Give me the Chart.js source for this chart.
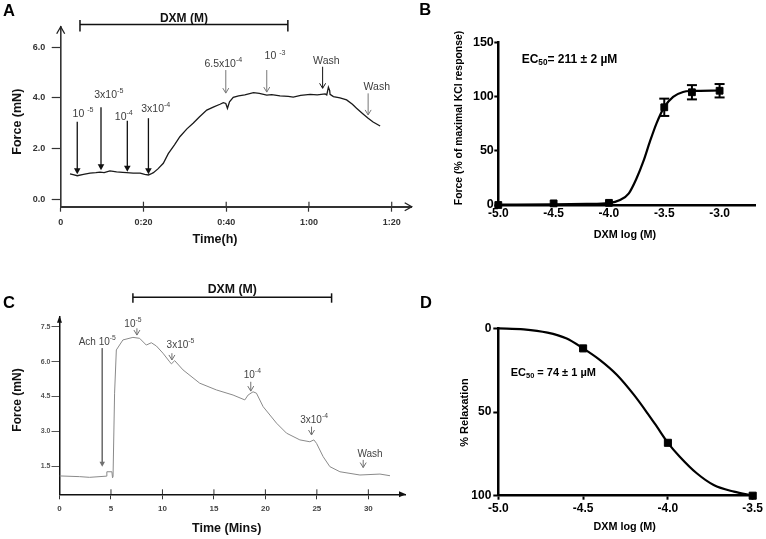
<!DOCTYPE html>
<html><head><meta charset="utf-8"><title>DXM contraction / relaxation</title>
<script src="https://cdn.jsdelivr.net/npm/chart.js@4.4.1/dist/chart.umd.min.js"></script>
<style>
html,body{margin:0;padding:0;background:#fff;}
#fig{position:relative;width:766px;height:539px;background:#fff;overflow:hidden;}
#fig canvas{position:absolute;}
</style></head><body>
<div id="fig">
<canvas id="cA" width="420" height="260" style="left:0;top:0"></canvas>
<canvas id="cB" width="386" height="260" style="left:380px;top:0"></canvas>
<canvas id="cC" width="420" height="279" style="left:0;top:260px"></canvas>
<canvas id="cD" width="386" height="279" style="left:380px;top:260px"></canvas>
</div>
<script>
// ================= Panel A : force trace (time in min, force in mN) =================
const timeA  = [2.25,3,4,5.5,7.1, 8.5,9.5,10.5,11.9,13.5, 15,15.95,17.5,19.2,20.3, 21.2,21.8,22.4,23.5,24.8, 26,27.5,28.8,30.5,32, 33.5,35.3,37,38.5,39.3, 39.9,40.3,40.8,41.7,43, 44.5,46.6,48,49.8,51, 53,55,56.2,58,60.3, 62,63.9,64.3,64.7,65, 65.1,65.9,67.5,69.1,70.5, 71.5,73,74.3,75.5,77.2];
const forceA = [1.0,0.97,0.93,0.98,1.03, 1.05,1.07,1.05,1.12,1.08, 1.06,1.05,1.03,1.03,0.98, 0.96,1.0,1.05,1.2,1.42, 1.8,2.15,2.47,2.78,3.0, 3.25,3.52,3.65,3.75,3.81, 3.78,3.59,3.85,4.02,4.08, 4.12,4.21,4.18,4.11,4.13, 4.08,4.06,4.03,4.1,4.14, 4.12,4.16,4.12,4.42,4.3, 4.14,4.05,4.0,3.92,3.75, 3.59,3.38,3.2,3.05,2.89];
const tickTimeA = [0,20,40,60,80];
const tickTimeLabelsA = ['0','0:20','0:40','1:00','1:20'];
const tickForceA = [0,2,4,6];
const doseTimesA  = [4.0, 9.74, 16.1, 21.2, 39.9, 49.8, 63.3, 74.3];
const doseLabelsA = ['10 ^-5','3x10^-5','10^-4','3x10^-4','6.5x10^-4','10 ^-3','Wash','Wash'];
const dxmPeriodA = [4.66, 54.9];

// ================= Panel B : contraction concentration-response =================
const logDoseB = [-5.0,-4.5,-4.0,-3.5,-3.25,-3.0];
const forceB   = [0,1.5,2,90.3,104.2,105.6];
const semB     = [0,0,0,8,6.6,6.2];
const fitLogB  = [-5,-4.5,-4.2,-4.0,-3.9,-3.82,-3.75,-3.69,-3.63,-3.57,-3.5,-3.42,-3.33,-3.25,-3.0];
const fitB     = [0.3,0.6,1.0,1.8,4.6,10.8,24.7,40,58.5,75.5,90.5,100,104.5,105.4,105.8];
const tickLogB = [-5,-4.5,-4,-3.5,-3];
const tickForceB = [0,50,100,150];

// ================= Panel C : ACh pre-contracted trace =================
const timeC  = [0,1.95,2.92,4.54,4.6, 5.09,5.15,5.2,5.35,5.52, 6.16,7.13,7.78,8.43,8.92, 9.41,10.05,10.7,10.87,11.19, 12.0,13.62,15.24,16.86,18.0, 18.32,18.8,19.13,19.78,21.08, 22.05,23.35,24.32,24.71,24.97, 25.61,26.26,27.24,29.18,31.13, 32.1];
const forceC = [1.08,1.05,1.02,1.07,1.26, 1.26,1.0,1.05,4.64,6.5, 6.93,7.04,7.0,6.71,6.81, 6.67,6.36,5.99,5.9,6.04, 5.64,5.07,4.78,4.56,4.35, 4.56,4.7,4.64,4.06,3.35, 2.92,2.63,2.55,2.63,2.48, 1.91,1.48,1.26,1.12,1.16, 1.09];
const tickTimeC = [0,5,10,15,20,25,30];
const tickForceC = [1.5,3.0,4.5,6.0,7.5];
const doseTimesC  = [4.15, 7.52, 10.92, 18.58, 24.48, 29.5];
const doseLabelsC = ['Ach 10^-5','10^-5','3x10^-5','10^-4','3x10^-4','Wash'];
const dxmPeriodC = [7.13, 26.43];

// ================= Panel D : relaxation concentration-response =================
const logDoseD = [-4.5,-4.0,-3.5];
const relaxD   = [12,68.4,100];
const fitLogD  = [-5,-4.85,-4.71,-4.6,-4.5,-4.4,-4.3,-4.2,-4.12,-4.065,-4.0,-3.93,-3.83,-3.73,-3.61,-3.5];
const fitD     = [0,0.6,2.6,6.0,12,19,27.9,39.8,50.8,58.8,68.4,76.7,86.6,93.6,97.6,100];
const tickLogD = [-5,-4.5,-4,-3.5];
const tickRelaxD = [0,50,100];

// ---------- annotation layout (arrow top / tip and label centre, in data units) ----------
const arrowLayoutA = [
  {top:3.06, tip:0.99, lt:5.39,  lv:3.35, col:'#111', fill:true},
  {top:3.63, tip:1.15, lt:11.63, lv:4.11, col:'#111', fill:true},
  {top:3.10, tip:1.09, lt:15.25, lv:3.23, col:'#111', fill:true},
  {top:3.20, tip:0.99, lt:22.98, lv:3.55, col:'#111', fill:true},
  {top:5.10, tip:4.19, lt:39.3,  lv:5.34, col:'#777', fill:false},
  {top:5.10, tip:4.23, lt:51.8,  lv:5.63, col:'#777', fill:false},
  {top:5.23, tip:4.38, lt:64.2,  lv:5.47, col:'#111', fill:false},
  {top:4.18, tip:3.33, lt:76.4,  lv:4.42, col:'#777', fill:false}
];
const arrowLayoutC = [
  {top:6.58, tip:1.48, lt:3.67,  lv:6.83, fill:true},
  {top:7.43, tip:7.14, lt:7.13,  lv:7.62, fill:false},
  {top:6.36, tip:6.07, lt:11.75, lv:6.71, fill:false},
  {top:5.13, tip:4.73, lt:18.73, lv:5.42, fill:false},
  {top:3.20, tip:2.84, lt:24.73, lv:3.49, fill:false},
  {top:1.77, tip:1.44, lt:30.16, lv:2.01, fill:false}
];

const FONT = '"Liberation Sans", Arial, Helvetica, sans-serif';

// ---------- helpers ----------
function pts(xs, ys){ return xs.map((x,i)=>({x:x, y:ys[i]})); }
function fixed(w,h){ return s => { if(w!=null) s.width=w; if(h!=null) s.height=h; s.paddingLeft=0; s.paddingRight=0; s.paddingTop=0; s.paddingBottom=0; }; }
function useTicks(vals){ return s => { s.ticks = vals.map(v=>({value:v})); }; }
function seg(ctx,x1,y1,x2,y2){ ctx.beginPath(); ctx.moveTo(x1,y1); ctx.lineTo(x2,y2); ctx.stroke(); }
function poly(ctx,p,fill){ ctx.beginPath(); ctx.moveTo(p[0][0],p[0][1]); for(let i=1;i<p.length;i++) ctx.lineTo(p[i][0],p[i][1]); if(fill){ctx.closePath(); ctx.fill();} else ctx.stroke(); }
function text(ctx,s,x,y,font,color,align,rot){
  ctx.save(); ctx.translate(x,y); if(rot) ctx.rotate(rot);
  ctx.font=font; ctx.fillStyle=color; ctx.textAlign=align||'center'; ctx.textBaseline='middle';
  ctx.fillText(s,0,0); ctx.restore();
}
// parts: [[text, 'sup'|'sub'|null], ...]
function parts(ctx,list,x,y,size,color,weight,align){
  const small=size*0.68;
  let w=0; const ws=[];
  list.forEach(p=>{ ctx.font=weight+' '+(p[1]?small:size)+'px '+FONT; const m=ctx.measureText(p[0]).width; ws.push(m); w+=m; });
  let x0 = align==='left' ? x : x - w/2;
  ctx.fillStyle=color; ctx.textAlign='left'; ctx.textBaseline='middle';
  list.forEach((p,i)=>{
    ctx.font=weight+' '+(p[1]?small:size)+'px '+FONT;
    const dy = p[1]==='sup' ? -size*0.38 : (p[1]==='sub' ? size*0.25 : 0);
    ctx.fillText(p[0], x0, y+dy); x0+=ws[i];
  });
}
function rich(ctx,str,x,y,size,color,weight){
  const i=str.indexOf('^');
  const list = i<0 ? [[str,null]] : [[str.slice(0,i),null],[str.slice(i+1),'sup']];
  parts(ctx,list,x,y,size,color,weight||'normal');
}
function arrowDown(ctx,x,y1,y2,color,lw,head,filled){
  ctx.strokeStyle=color; ctx.fillStyle=color; ctx.lineWidth=lw;
  seg(ctx,x,y1,x,filled?y2-head+1:y2);
  if(filled) poly(ctx,[[x-head*0.55,y2-head],[x+head*0.55,y2-head],[x,y2]],true);
  else poly(ctx,[[x-head*0.6,y2-head],[x,y2],[x+head*0.6,y2-head]],false);
}
const base = {
  responsive:false, animation:false, devicePixelRatio:1, events:[],
  plugins:{legend:{display:false}, tooltip:{enabled:false}}
};

// ---------- Panel A ----------
const annA = {id:'annA', afterDraw(c){
  const {ctx, chartArea:ca, scales:{x,y}} = c;
  const X=v=>x.getPixelForValue(v), Y=v=>y.getPixelForValue(v);
  ctx.save();
  ctx.strokeStyle='#222'; ctx.lineWidth=1.3;
  poly(ctx,[[ca.left-4,ca.top+7],[ca.left,ca.top],[ca.left+4,ca.top+7]]);
  poly(ctx,[[ca.right-7,ca.bottom-4],[ca.right,ca.bottom],[ca.right-7,ca.bottom+4]]);
  ctx.strokeStyle='#333'; ctx.lineWidth=1.2;
  tickTimeA.slice(1).forEach(t=>seg(ctx,X(t),ca.bottom-5,X(t),ca.bottom));
  const b1=X(dxmPeriodA[0]), b2=X(dxmPeriodA[1]), by=24.5;
  ctx.strokeStyle='#111'; ctx.lineWidth=1.5;
  seg(ctx,b1,by,b2,by); seg(ctx,b1,by-4.5,b1,by+7); seg(ctx,b2,by-4.5,b2,by+7);
  text(ctx,'DXM (M)',(b1+b2)/2,18.5,'bold 12px '+FONT,'#111');
  doseTimesA.forEach((t,i)=>{
    const L=arrowLayoutA[i];
    arrowDown(ctx,X(t),Y(L.top),Y(L.tip),L.col,L.fill?1.3:1,L.fill?6:5,L.fill);
    rich(ctx,doseLabelsA[i],X(L.lt),Y(L.lv),10.5,'#3c3c3c','normal');
  });
  text(ctx,'Force (mN)',18,121.7,'bold 12.5px '+FONT,'#111','center',-Math.PI/2);
  text(ctx,'Time(h)',215,240,'bold 12.5px '+FONT,'#111');
  text(ctx,'A',3,11,'bold 16.5px '+FONT,'#000','left');
  ctx.restore();
}};
new Chart(document.getElementById('cA'), {
  type:'line',
  data:{datasets:[{data:pts(timeA,forceA), borderColor:'#1a1a1a', borderWidth:1.3, pointRadius:0, tension:0, fill:false}]},
  options:Object.assign({}, base, {
    layout:{padding:{left:0, top:26.7, right:8.3, bottom:0}},
    scales:{
      x:{type:'linear', min:0, max:84.83, afterFit:fixed(null,53.3), afterBuildTicks:useTicks(tickTimeA),
         ticks:{callback:v=>tickTimeLabelsA[tickTimeA.indexOf(v)], font:{family:FONT,size:9,weight:'bold'}, color:'#333', padding:5, maxRotation:0, autoSkip:false},
         grid:{drawOnChartArea:false, tickLength:5, tickColor:'#333', tickWidth:1.2},
         border:{color:'#333', width:2}},
      y:{type:'linear', min:-0.292, max:6.81, afterFit:fixed(60.7,null), afterBuildTicks:useTicks(tickForceA),
         ticks:{callback:v=>v.toFixed(1), font:{family:FONT,size:9,weight:'bold'}, color:'#333', padding:6.5, autoSkip:false},
         grid:{drawOnChartArea:false, tickLength:9, tickColor:'#333', tickWidth:1.2},
         border:{color:'#333', width:1.6}}
    }
  }),
  plugins:[annA]
});

// ---------- Panel B ----------
const annB = {id:'annB',
  afterDatasetsDraw(c){
    const {ctx, scales:{x,y}} = c;
    ctx.save(); ctx.strokeStyle='#000'; ctx.lineWidth=2;
    logDoseB.forEach((d,i)=>{
      const e=semB[i]; if(!e) return;
      const px=x.getPixelForValue(d), p1=y.getPixelForValue(forceB[i]-e), p2=y.getPixelForValue(forceB[i]+e);
      seg(ctx,px,p1,px,p2); seg(ctx,px-5,p1,px+5,p1); seg(ctx,px-5,p2,px+5,p2);
    });
    ctx.restore();
  },
  afterDraw(c){
    const ctx=c.ctx; ctx.save();
    parts(ctx,[['EC',null],['50','sub'],['= 211 \u00B1 2 \u00B5M',null]],141.7,59.3,12,'#000','bold','left');
    text(ctx,'Force (% of maximal KCl response)',79.2,118,'bold 10.4px '+FONT,'#000','center',-Math.PI/2);
    text(ctx,'DXM log (M)',245,235.5,'bold 10.8px '+FONT,'#000');
    text(ctx,'B',39.3,10.8,'bold 16.5px '+FONT,'#000','left');
    ctx.restore();
  }};
new Chart(document.getElementById('cB'), {
  type:'line',
  data:{datasets:[
    {data:pts(logDoseB,forceB), showLine:false, pointStyle:'rect', pointRadius:4.8, pointBorderWidth:1, pointBackgroundColor:'#000', pointBorderColor:'#000', clip:false},
    {data:pts(fitLogB,fitB), borderColor:'#000', borderWidth:2.2, pointRadius:0, cubicInterpolationMode:'monotone', fill:false, clip:false}
  ]},
  options:Object.assign({}, base, {
    layout:{padding:{left:0, top:42.7, right:11, bottom:0}},
    scales:{
      x:{type:'linear', min:-5, max:-2.68, afterFit:fixed(null,55), afterBuildTicks:useTicks(tickLogB),
         ticks:{callback:v=>v.toFixed(1), font:{family:FONT,size:12,weight:'bold'}, color:'#000', padding:1, maxRotation:0, autoSkip:false},
         grid:{drawOnChartArea:false, drawTicks:false},
         border:{color:'#000', width:2.5}},
      y:{type:'linear', min:0, max:150, afterFit:fixed(118.3,null), afterBuildTicks:useTicks(tickForceB),
         ticks:{callback:v=>String(v), font:{family:FONT,size:12.5,weight:'bold'}, color:'#000', padding:0.5, autoSkip:false},
         grid:{drawOnChartArea:false, tickLength:4, tickColor:'#000', tickWidth:2},
         border:{color:'#000', width:2.5}}
    }
  }),
  plugins:[annB]
});

// ---------- Panel C ----------
const annC = {id:'annC', afterDraw(c){
  const {ctx, chartArea:ca, scales:{x,y}} = c;
  const X=v=>x.getPixelForValue(v), Y=v=>y.getPixelForValue(v);
  ctx.save();
  ctx.fillStyle='#111';
  poly(ctx,[[ca.left-2.5,ca.top+6],[ca.left,ca.top-1],[ca.left+2.5,ca.top+6]],true);
  poly(ctx,[[ca.right-6,ca.bottom-3],[ca.right+1,ca.bottom],[ca.right-6,ca.bottom+3]],true);
  ctx.strokeStyle='#333'; ctx.lineWidth=1;
  tickTimeC.slice(1).forEach(t=>seg(ctx,X(t),ca.bottom-5,X(t),ca.bottom));
  const b1=X(dxmPeriodC[0]), b2=X(dxmPeriodC[1]), by=37.3;
  ctx.strokeStyle='#111'; ctx.lineWidth=1.5;
  seg(ctx,b1,by,b2,by); seg(ctx,b1,by-4,b1,by+5.4); seg(ctx,b2,by-4,b2,by+5.4);
  text(ctx,'DXM (M)',(b1+b2)/2,29.3,'bold 12.3px '+FONT,'#111');
  doseTimesC.forEach((t,i)=>{
    const L=arrowLayoutC[i];
    arrowDown(ctx,X(t),Y(L.top),Y(L.tip),'#707070',L.fill?1.6:1,L.fill?5:5,L.fill);
    rich(ctx,doseLabelsC[i],X(L.lt),Y(L.lv),10,'#444','normal');
  });
  text(ctx,'Force (mN)',18,140,'bold 12px '+FONT,'#111','center',-Math.PI/2);
  text(ctx,'Time (Mins)',226.7,268.3,'bold 12.5px '+FONT,'#111');
  text(ctx,'C',3,43.8,'bold 16.5px '+FONT,'#000','left');
  ctx.restore();
}};
new Chart(document.getElementById('cC'), {
  type:'line',
  data:{datasets:[{data:pts(timeC,forceC), borderColor:'#8a8a8a', borderWidth:1, pointRadius:0, tension:0, fill:false}]},
  options:Object.assign({}, base, {
    layout:{padding:{left:0, top:56.7, right:15, bottom:0}},
    scales:{
      x:{type:'linear', min:0, max:33.56, afterFit:fixed(null,44.7), afterBuildTicks:useTicks(tickTimeC),
         ticks:{callback:v=>String(v), font:{family:FONT,size:8,weight:'bold'}, color:'#444', padding:4.5, maxRotation:0, autoSkip:false},
         grid:{drawOnChartArea:false, tickLength:5, tickColor:'#333', tickWidth:1},
         border:{color:'#111', width:1.5}},
      y:{type:'linear', min:0.29, max:7.93, afterFit:fixed(59.5,null), afterBuildTicks:useTicks(tickForceC),
         ticks:{callback:v=>v.toFixed(1), font:{family:FONT,size:7,weight:'bold'}, color:'#555', padding:1, autoSkip:false},
         grid:{drawOnChartArea:false, tickLength:8, tickColor:'#555', tickWidth:1},
         border:{color:'#111', width:1.5}}
    }
  }),
  plugins:[annC]
});

// ---------- Panel D ----------
const annD = {id:'annD', afterDraw(c){
  const ctx=c.ctx; ctx.save();
  parts(ctx,[['EC',null],['50','sub'],[' = 74 \u00B1 1 \u00B5M',null]],130.7,113.3,11,'#000','bold','left');
  text(ctx,'% Relaxation',84.7,152.5,'bold 11px '+FONT,'#000','center',-Math.PI/2);
  text(ctx,'DXM log (M)',244.7,266.7,'bold 10.8px '+FONT,'#000');
  text(ctx,'D',40,43.8,'bold 16.5px '+FONT,'#000','left');
  ctx.restore();
}};
new Chart(document.getElementById('cD'), {
  type:'line',
  data:{datasets:[
    {data:pts(logDoseD,relaxD), showLine:false, pointStyle:'rect', pointRadius:5, pointBorderWidth:1, pointBackgroundColor:'#000', pointBorderColor:'#000', clip:false},
    {data:pts(fitLogD,fitD), borderColor:'#000', borderWidth:2.2, pointRadius:0, cubicInterpolationMode:'monotone', fill:false, clip:false}
  ]},
  options:Object.assign({}, base, {
    layout:{padding:{left:0, top:68.3, right:13.3, bottom:0}},
    scales:{
      x:{type:'linear', min:-5, max:-3.5, afterFit:fixed(null,43.3), afterBuildTicks:useTicks(tickLogD),
         ticks:{callback:v=>v.toFixed(1), font:{family:FONT,size:12,weight:'bold'}, color:'#000', padding:2, maxRotation:0, autoSkip:false},
         grid:{drawOnChartArea:false, tickLength:4, tickColor:'#000', tickWidth:2},
         border:{color:'#000', width:2.5}},
      y:{type:'linear', min:0, max:100, reverse:true, afterFit:fixed(118.3,null), afterBuildTicks:useTicks(tickRelaxD),
         ticks:{callback:v=>String(v), font:{family:FONT,size:12,weight:'bold'}, color:'#000', padding:2, autoSkip:false},
         grid:{drawOnChartArea:false, tickLength:5, tickColor:'#000', tickWidth:2},
         border:{color:'#000', width:2.5}}
    }
  }),
  plugins:[annD]
});
</script>
</body></html>
